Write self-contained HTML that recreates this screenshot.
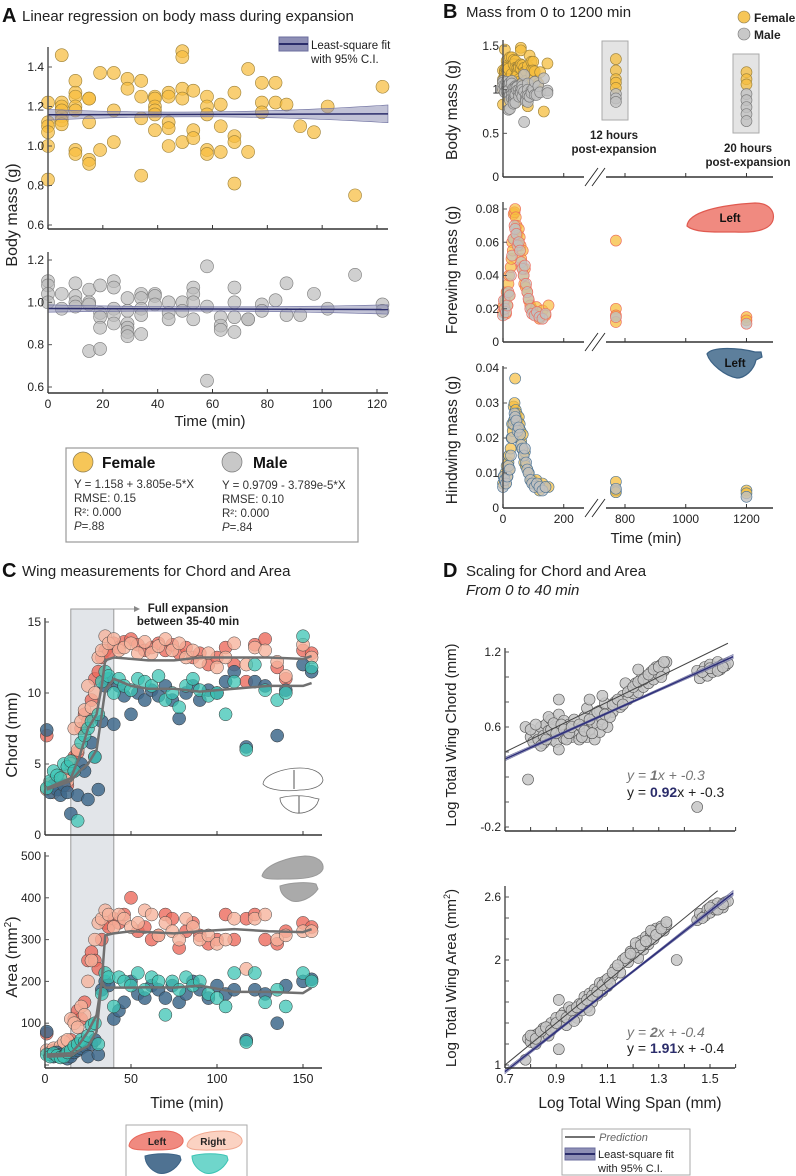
<!DOCTYPE html>
<html><head><meta charset="utf-8"><style>
html,body{margin:0;padding:0;background:#fff}
svg{display:block;font-family:"Liberation Sans",Arial,sans-serif}
</style></head><body>
<svg id="fig" width="796" height="1176" viewBox="0 0 796 1176" xmlns="http://www.w3.org/2000/svg">
<g>
<text x="2" y="22" font-size="20" font-weight="bold" fill="#111">A</text>
<text x="22" y="21" font-size="15" fill="#222">Linear regression on body mass during expansion</text></g>
<g>
<text x="443" y="18" font-size="20" font-weight="bold" fill="#111">B</text>
<text x="466" y="17" font-size="15" fill="#222">Mass from 0 to 1200 min</text></g>
<g>
<text x="2" y="577" font-size="20" font-weight="bold" fill="#111">C</text>
<text x="22" y="576" font-size="15" fill="#222">Wing measurements for Chord and Area</text></g>
<g>
<text x="443" y="577" font-size="20" font-weight="bold" fill="#111">D</text>
<text x="466" y="576" font-size="15" fill="#222">Scaling for Chord and Area</text>
<text x="466" y="595" font-size="15" font-style="italic" fill="#222">From 0 to 40 min</text></g>
</svg>
<script>
// ---------- Panel A data ----------
const femaleT=[0,0,0,0,0,0,5,5,5,5,5,5,5,10,10,10,10,10,10,10,15,15,15,15,15,19,19,24,24,24,29,29,34,34,34,34,39,39,39,39,39,39,44,44,44,44,44,49,49,49,49,49,53,53,53,58,58,58,58,58,63,63,63,68,68,68,68,73,73,78,78,78,83,83,87,92,97,102,112,122];
const femaleM=[1.22,1.12,1.10,1.07,1.0,0.83,1.46,1.22,1.20,1.18,1.15,1.13,1.11,1.33,1.27,1.25,1.2,1.18,0.98,0.96,1.24,1.24,1.12,0.93,0.91,1.37,0.98,1.37,1.18,1.02,1.34,1.29,1.33,1.25,1.14,0.85,1.25,1.24,1.2,1.18,1.16,1.08,1.27,1.25,1.12,1.09,1.0,1.48,1.45,1.29,1.24,1.02,1.28,1.08,1.04,1.25,1.2,1.16,0.98,0.96,1.21,1.1,0.97,1.27,1.05,1.02,0.81,1.39,0.97,1.32,1.22,1.17,1.32,1.22,1.21,1.1,1.07,1.2,0.75,1.3];
const maleT=[0,0,0,0,5,5,10,10,10,10,15,15,15,15,19,19,19,19,19,24,24,24,24,24,29,29,29,29,29,29,34,34,34,34,34,39,39,39,44,44,44,49,49,53,53,53,53,58,58,58,63,63,63,68,68,68,68,73,73,78,78,83,87,87,92,97,102,112,122,122];
const maleM=[1.1,1.08,1.04,1.0,1.04,0.97,1.09,1.03,1.0,0.98,1.06,1.0,0.99,0.77,1.08,0.95,0.93,0.88,0.78,1.1,1.07,0.97,0.94,0.9,1.02,0.96,0.9,0.88,0.86,0.84,1.04,1.02,0.97,0.94,0.85,1.04,1.03,0.99,1.0,0.95,0.92,1.0,0.96,1.07,1.04,1.0,0.92,1.17,0.98,0.63,0.93,0.89,0.87,1.07,1.0,0.93,0.86,0.92,0.92,0.99,0.96,1.01,1.09,0.94,0.94,1.04,0.97,1.13,0.99,0.96];
const femaleFit=[1.158,3.805e-5];
const maleFit=[0.9709,-3.789e-5];
const ticksA=[0,20,40,60,80,100,120];
const ticksA1=[0.6,0.8,1.0,1.2,1.4];
const ticksA2=[0.6,0.8,1.0,1.2];
// ---------- Panel B data ----------
const post12T=770, post20T=1200;
const body12F=[1.35,1.22,1.12,1.08,1.02], body12M=[0.95,0.9,0.86];
const body20F=[1.2,1.12,1.06], body20M=[0.95,0.88,0.8,0.72,0.64];
const foreFT=[0,2,5,8,10,12,15,18,20,22,25,28,30,32,35,36,38,40,42,45,48,50,52,55,58,60,62,65,68,70,72,75,80,85,90,95,100,110,120,130,140,150];
const foreFM=[0.018,0.022,0.02,0.025,0.017,0.03,0.022,0.035,0.04,0.028,0.045,0.05,0.06,0.055,0.077,0.062,0.078,0.08,0.075,0.07,0.065,0.06,0.068,0.063,0.058,0.05,0.045,0.055,0.04,0.035,0.044,0.033,0.03,0.025,0.022,0.02,0.018,0.021,0.014,0.019,0.016,0.022];
const foreMT=[0,3,6,10,14,18,22,26,30,34,38,40,44,48,52,56,60,64,68,72,76,80,84,90,96,104,112,120,130,140];
const foreMM=[0.016,0.025,0.02,0.018,0.022,0.03,0.028,0.04,0.052,0.062,0.07,0.068,0.065,0.058,0.06,0.055,0.048,0.044,0.04,0.046,0.035,0.03,0.026,0.02,0.017,0.016,0.018,0.015,0.014,0.017];
const hindFM=[0.007,0.009,0.008,0.01,0.007,0.012,0.009,0.013,0.015,0.011,0.017,0.02,0.024,0.022,0.029,0.025,0.03,0.037,0.028,0.027,0.025,0.023,0.026,0.024,0.022,0.019,0.017,0.021,0.015,0.013,0.016,0.012,0.011,0.01,0.008,0.008,0.007,0.008,0.005,0.007,0.006,0.006];
const hindMM=[0.006,0.009,0.008,0.007,0.009,0.012,0.011,0.015,0.02,0.024,0.027,0.026,0.025,0.022,0.023,0.021,0.018,0.017,0.015,0.017,0.013,0.011,0.01,0.008,0.007,0.006,0.007,0.006,0.005,0.006];
const fore12F=[0.061,0.02,0.016,0.012], fore12M=[0.015], fore20F=[0.015,0.013], fore20M=[0.011];
const hind12F=[0.0075,0.005,0.0045], hind12M=[0.0055], hind20F=[0.005,0.0042], hind20M=[0.0032];
const ticksBx=[0,200,800,1000,1200];
const ticksBody=[0,0.5,1,1.5], ticksFore=[0,0.02,0.04,0.06,0.08], ticksHind=[0,0.01,0.02,0.03,0.04];
// ---------- Panel C data ----------
const tC=[1,3,5,7,9,11,13,15,17,19,21,23,25,27,29,31,33,35,37,40,43,46,50,54,58,62,66,70,74,78,82,86,90,95,100,105,110,117,122,128,135,140,150,155];
const chordLF=[7.0,3.5,3.3,3.8,3.2,4.0,3.5,4.5,5.5,5.8,7.5,8.5,8.0,9.5,11.0,11.5,12.5,13.0,12.8,13.5,13.2,13.6,13.8,13.4,13.0,13.2,13.5,13.0,13.4,12.8,13.2,12.5,12.8,12.0,12.5,13.2,12.0,10.8,13.4,13.8,11.8,11.0,13.0,12.8];
const chordRF=[3.2,3.6,3.0,3.4,3.9,4.2,3.8,5.0,7.5,6.0,8.0,8.8,10.5,9.0,10.0,12.5,13.0,14.0,13.5,13.8,13.0,13.2,13.5,12.8,13.6,12.8,13.3,13.8,13.0,13.5,12.5,13.0,12.2,12.8,11.8,12.5,13.5,12.0,13.2,13.0,12.2,11.2,13.4,12.5];
const chordLH=[7.4,3.0,3.5,3.2,2.8,3.5,3.0,1.5,4.5,2.8,5.0,4.5,2.5,6.5,5.5,3.2,8.0,10.5,11.0,7.8,10.5,9.8,8.5,10.0,9.5,10.2,9.8,10.5,9.5,8.2,10.0,10.5,9.5,10.2,10.0,10.8,11.5,6.2,10.8,10.5,7.0,10.2,12.0,11.5];
const chordRH=[3.3,3.8,4.5,4.2,4.0,5.0,4.8,5.2,4.5,1.0,6.5,7.0,7.5,8.0,5.5,8.5,10.8,11.5,11.2,10.0,11.0,10.5,10.2,11.0,10.8,10.5,11.2,9.5,10.0,9.0,10.5,11.0,10.2,9.8,10.0,8.5,10.8,6.0,12.0,10.2,9.5,10.0,14.0,11.8];
const areaLF=[75,30,35,28,32,40,45,60,110,130,110,150,250,270,250,230,300,340,330,350,340,360,400,320,330,300,310,360,350,280,320,340,310,290,300,360,300,350,360,300,290,320,340,330];
const areaRF=[35,30,40,32,45,55,60,110,100,90,140,120,200,250,300,340,350,370,360,330,360,350,330,340,370,360,310,340,320,300,350,330,300,310,290,300,350,230,350,360,300,310,320,320];
const areaLH=[80,25,20,30,25,22,15,20,30,35,40,45,20,50,60,25,180,200,190,110,130,150,200,170,160,190,180,160,190,150,170,200,180,160,190,170,180,60,180,170,100,190,200,205];
const areaRH=[25,20,28,22,18,20,30,35,45,50,60,55,70,95,100,50,170,220,210,140,210,200,190,220,180,210,200,120,200,180,210,190,200,170,160,140,220,55,220,150,180,140,220,200];
const trendT=[1,15,20,25,30,33,35,40,50,60,75,90,110,130,150,155];
const trendChordFore=[3.3,4.0,5.5,7.5,8.5,10.5,12.3,12.5,12.4,12.3,12.3,12.5,12.5,12.5,12.4,12.6];
const trendChordHind=[3.2,3.8,4.5,5.0,6.0,8.5,10.2,11.0,10.5,10.3,10.3,10.1,10.3,10.5,10.5,10.7];
const trendAreaFore=[25,28,50,80,120,200,310,315,320,318,315,320,325,320,318,325];
const trendAreaHind=[20,22,35,45,80,200,185,185,185,186,185,190,175,175,172,185];
const ticksCx=[0,50,100,150], ticksChord=[0,5,10,15], ticksArea=[0,100,200,300,400,500];
// ---------- Panel D data ----------
const spanChordX=[0.78,0.80,0.81,0.82,0.83,0.84,0.85,0.85,0.86,0.87,0.88,0.88,0.89,0.90,0.90,0.91,0.91,0.92,0.93,0.93,0.94,0.95,0.96,0.97,0.91,0.79,0.98,0.99,1.00,1.01,1.02,1.02,1.03,1.04,1.05,1.05,1.06,1.07,1.07,1.08,1.09,1.10,1.03,1.08,1.12,1.13,1.15,1.16,1.18,1.19,1.20,1.21,1.22,1.23,1.24,1.25,1.26,1.27,1.28,1.29,1.30,1.31,1.32,1.33,1.22,1.17,1.45,1.46,1.48,1.49,1.50,1.51,1.52,1.53,1.54,1.55,1.56,1.57,1.45,
0.80,0.82,0.84,0.86,0.87,0.88,0.89,0.90,0.92,0.93,0.94,0.95,0.96,0.99,1.00,1.01,1.03,1.04,1.06,1.08,1.09,1.11,1.12,1.14,1.16,1.18,1.20,1.22,1.24,1.26,1.28,1.30,1.31,1.32,1.47,1.50,1.53,1.55];
const chordY=[0.60,0.52,0.48,0.55,0.50,0.60,0.53,0.47,0.62,0.57,0.50,0.66,0.54,0.60,0.48,0.70,0.42,0.55,0.65,0.51,0.58,0.62,0.52,0.66,0.82,0.18,0.55,0.50,0.60,0.68,0.52,0.75,0.58,0.64,0.50,0.70,0.62,0.56,0.73,0.66,0.79,0.60,0.82,0.85,0.72,0.80,0.76,0.85,0.82,0.90,0.87,0.95,0.88,0.98,0.92,1.00,0.95,1.04,0.98,1.08,1.02,1.10,1.05,1.12,1.06,0.95,1.05,0.99,1.08,1.01,1.10,1.04,1.08,1.12,1.06,1.10,1.09,1.11,-0.04,
0.58,0.62,0.45,0.50,0.68,0.58,0.63,0.55,0.62,0.58,0.50,0.55,0.60,0.62,0.52,0.57,0.66,0.55,0.72,0.62,0.70,0.68,0.78,0.82,0.78,0.88,0.92,0.96,0.98,1.02,1.06,1.08,1.00,1.12,1.04,1.07,1.05,1.08];
const spanAreaX=[0.78,0.79,0.80,0.81,0.82,0.83,0.84,0.85,0.86,0.87,0.88,0.89,0.90,0.91,0.91,0.92,0.93,0.94,0.95,0.96,0.97,0.98,0.99,1.00,1.01,1.02,1.03,1.04,1.05,1.06,1.07,1.08,1.09,1.10,1.12,1.13,1.15,1.16,1.18,1.19,1.20,1.21,1.22,1.23,1.24,1.25,1.26,1.27,1.28,1.29,1.30,1.31,1.32,1.33,1.37,1.45,1.46,1.48,1.49,1.50,1.51,1.52,1.53,1.55,1.56,1.57,
0.80,0.82,0.84,0.86,0.88,0.90,0.92,0.94,0.96,0.98,1.00,1.02,1.04,1.06,1.08,1.10,1.12,1.14,1.17,1.19,1.21,1.23,1.25,1.27,1.29,1.31,1.33,1.47,1.50,1.53,1.55,0.97,1.03,1.11];
const areaY=[1.05,1.25,1.22,1.28,1.20,1.30,1.26,1.35,1.32,1.28,1.40,1.36,1.45,1.15,1.62,1.42,1.50,1.38,1.55,1.47,1.52,1.45,1.58,1.52,1.65,1.55,1.68,1.60,1.72,1.66,1.78,1.70,1.80,1.75,1.85,1.92,1.88,2.00,1.98,2.08,2.05,2.12,2.02,2.18,2.10,2.22,2.15,2.25,2.20,2.30,2.26,2.32,2.28,2.34,2.00,2.38,2.44,2.42,2.48,2.45,2.52,2.48,2.54,2.50,2.55,2.56,
1.28,1.25,1.32,1.36,1.33,1.40,1.47,1.45,1.52,1.55,1.58,1.62,1.66,1.70,1.76,1.82,1.88,1.95,2.02,2.06,2.16,2.14,2.18,2.28,2.24,2.30,2.36,2.40,2.50,2.48,2.53,1.42,1.52,1.78];
const predChord=[1,-0.3], fitChord=[0.92,-0.3], predArea=[2,-0.4], fitArea=[1.91,-0.4];
const ticksDx=[0.7,0.8,0.9,1.0,1.1,1.2,1.3,1.4,1.5,1.6], labelsDx=["0.7","","0.9","","1.1","","1.3","","1.5",""];
const ticksDc=[-0.2,0,0.2,0.4,0.6,0.8,1.0,1.2], labelsDc=["-0.2","","","","0.6","","","1.2"];
const ticksDa=[1,1.2,1.4,1.6,1.8,2,2.2,2.4,2.6], labelsDa=["1","","","","","2","","","2.6"];

// ---------- helpers ----------
const svg=document.getElementById('fig');
const NS='http://www.w3.org/2000/svg';
function mk(tag,a,parent){const e=document.createElementNS(NS,tag);for(const k in a)e.setAttribute(k,a[k]);(parent||svg).appendChild(e);return e;}
function txt(x,y,s,a,parent){const e=mk('text',Object.assign({x:x,y:y,'font-size':12,fill:'#222'},a||{}),parent);e.textContent=s;return e;}
function sc(d0,d1,r0,r1){return v=>r0+(v-d0)*(r1-r0)/(d1-d0);}
function grp(name){const g=mk('g',{});


return g;}
function dots(xs,ys,fx,fy,r,fill,stroke,op,name,sw){const g=grp(name);
for(let i=0;i<xs.length;i++){const c=mk('circle',{cx:fx(xs[i]),cy:fy(ys[i]),r:r,fill:fill,'fill-opacity':op,stroke:stroke,'stroke-width':sw||0.6},g);

}
return g;}
function yAxis(x,top,bottom,vals,labels,fy,name,len,fs){const g=grp(name);
mk('line',{x1:x,y1:top,x2:x,y2:bottom,stroke:'#555','stroke-width':1.5},g);
vals.forEach((v,i)=>{const y=fy(v);mk('line',{x1:x,y1:y,x2:x+(len||4),y2:y,stroke:'#555','stroke-width':1},g);
if(labels[i]!=='')txt(x-4,y+4,labels[i],{'text-anchor':'end','font-size':fs||12},g);});return g;}
function xAxis(y,left,right,vals,labels,fx,name,fs){const g=grp(name);
mk('line',{x1:left,y1:y,x2:right,y2:y,stroke:'#333','stroke-width':1.5},g);
vals.forEach((v,i)=>{const x=fx(v);mk('line',{x1:x,y1:y,x2:x,y2:y-4,stroke:'#333','stroke-width':1},g);
if(labels&&labels[i]!=='')txt(x,y+15,labels[i],{'text-anchor':'middle','font-size':fs||12},g);});return g;}
function ylabel(x,y,s,name,fs){const t=txt(x,y,s,{'text-anchor':'middle','font-size':fs||15,transform:'rotate(-90 '+x+' '+y+')'});


return t;}
function band(fx,fy,x0,x1,fit,hw,name,stroke){const g=grp(name);let up=[],dn=[];
for(let i=0;i<=20;i++){const x=x0+(x1-x0)*i/20;const c=fit[0]+fit[1]*x;const h=hw(x);up.push(fx(x)+','+fy(c+h));dn.unshift(fx(x)+','+fy(c-h));}
mk('polygon',{points:up.concat(dn).join(' '),fill:'#8e8fb5','fill-opacity':0.55,stroke:'#6b6d9e','stroke-width':0.6},g);
mk('line',{x1:fx(x0),y1:fy(fit[0]+fit[1]*x0),x2:fx(x1),y2:fy(fit[0]+fit[1]*x1),stroke:stroke||'#2b2d6b','stroke-width':1.5},g);return g;}

// ---------- Panel A ----------
const xA=sc(0,120,48,377), yA1=sc(0.6,1.4,225,67), yA2=sc(0.6,1.2,387,260);
dots(femaleT,femaleM,xA,yA1,6.5,'#f6bd3e','#9c8038',0.72,'female-mass-dots');
band(xA,yA1,0,124,[femaleFit[0],femaleFit[1]],t=>0.012+0.000006*(t-50)*(t-50),'female-fit-band');
yAxis(48,47,229,ticksA1,ticksA1.map(v=>v.toFixed(1)),yA1,'a-top-y-axis');
xAxis(229,48,388,ticksA,null,xA,'a-top-x-axis');
dots(maleT,maleM,xA,yA2,6.5,'#bcbcbc','#7a7a7a',0.7,'male-mass-dots');
band(xA,yA2,0,124,[maleFit[0],maleFit[1]],t=>0.01+0.0000025*(t-55)*(t-55),'male-fit-band');
yAxis(48,252,393,ticksA2,ticksA2.map(v=>v.toFixed(1)),yA2,'a-bottom-y-axis');
xAxis(393,48,388,ticksA,ticksA.map(String),xA,'a-bottom-x-axis',12);
ylabel(17,215,'Body mass (g)','a-y-axis-title',16);
txt(210,426,'Time (min)',{'text-anchor':'middle','font-size':15});
{const g=grp('a-fit-legend');
mk('rect',{x:279,y:37,width:29,height:14,fill:'#8e8fb5',stroke:'#6b6d9e'},g);
mk('line',{x1:279,y1:44,x2:308,y2:44,stroke:'#2b2d6b','stroke-width':2},g);
txt(311,49,'Least-square fit',{'font-size':11.5},g);txt(311,63,'with 95% C.I.',{'font-size':11.5},g);}
{const g=grp('a-sex-legend');
mk('rect',{x:66,y:448,width:292,height:94,fill:'#fff',stroke:'#999','stroke-width':1.2},g);
mk('circle',{cx:83,cy:462,r:10,fill:'#f6c658',stroke:'#8a7a50','stroke-width':0.7},g);
txt(102,468,'Female',{'font-size':15.5,'font-weight':'bold','fill':'#111'},g);
mk('circle',{cx:232,cy:462,r:10,fill:'#c8c8c8',stroke:'#777','stroke-width':0.7},g);
txt(253,468,'Male',{'font-size':15.5,'font-weight':'bold','fill':'#111'},g);
const L1=['Y = 1.158 + 3.805e-5*X','RMSE: 0.15','R²: 0.000'],L2=['Y = 0.9709 - 3.789e-5*X','RMSE: 0.10','R²: 0.000'];
L1.forEach((s,i)=>txt(74,488+i*14,s,{'font-size':11.5,fill:'#333'},g));
L2.forEach((s,i)=>txt(222,489+i*14,s,{'font-size':11.5,fill:'#333'},g));
const p1=txt(74,530,'',{'font-size':11.5,fill:'#333'},g);p1.innerHTML='<tspan font-style="italic">P</tspan>=.88';
const p2=txt(222,531,'',{'font-size':11.5,fill:'#333'},g);p2.innerHTML='<tspan font-style="italic">P</tspan>=.84';}

// ---------- Panel B ----------
const xB=t=>t<=200?503+0.3037*t:625+(t-800)*0.3037;
const yBb=sc(0,1.5,177,46), yBf=sc(0,0.08,342,209), yBh=sc(0,0.04,508,368);
{const g=grp('post-expansion-boxes');
mk('rect',{x:602,y:41,width:26,height:79,fill:'#e4e4e4',stroke:'#aaa'},g);
mk('rect',{x:733,y:54,width:26,height:79,fill:'#e4e4e4',stroke:'#aaa'},g);}
const fC='#f6bd3e', mC='#c0c0c0';
dots(femaleT.map(t=>t*1.2),femaleM,xB,yBb,5.5,fC,'#9c8038',0.75,'b-female-body-dots');
dots(maleT.map(t=>t*1.2),maleM,xB,yBb,5.5,mC,'#777',0.8,'b-male-body-dots');
dots(body12F.map(()=>post12T),body12F,xB,yBb,5.5,fC,'#9c8038',0.75,'b-female-body-12h');
dots(body12M.map(()=>post12T),body12M,xB,yBb,5.5,mC,'#777',0.8,'b-male-body-12h');
dots(body20F.map(()=>post20T),body20F,xB,yBb,5.5,fC,'#9c8038',0.75,'b-female-body-20h');
dots(body20M.map(()=>post20T),body20M,xB,yBb,5.5,mC,'#777',0.8,'b-male-body-20h');
dots(foreFT,foreFM,xB,yBf,5.5,fC,'#ec6a5c',0.7,'b-female-forewing-dots');
dots(foreMT,foreMM,xB,yBf,5.5,mC,'#ec6a5c',0.7,'b-male-forewing-dots');
dots(fore12F.map(()=>post12T),fore12F,xB,yBf,5.5,fC,'#ec6a5c',0.75,'b-female-forewing-12h');
dots(fore12M.map(()=>post12T),fore12M,xB,yBf,5.5,mC,'#ec6a5c',0.8,'b-male-forewing-12h');
dots(fore20F.map(()=>post20T),fore20F,xB,yBf,5.5,fC,'#ec6a5c',0.75,'b-female-forewing-20h');
dots(fore20M.map(()=>post20T),fore20M,xB,yBf,5.5,mC,'#ec6a5c',0.8,'b-male-forewing-20h');
dots(foreFT,hindFM,xB,yBh,5.5,fC,'#4d7394',0.7,'b-female-hindwing-dots');
dots(foreMT,hindMM,xB,yBh,5.5,mC,'#4d7394',0.75,'b-male-hindwing-dots');
dots(hind12F.map(()=>post12T),hind12F,xB,yBh,5.5,fC,'#4d7394',0.75,'b-female-hindwing-12h');
dots(hind12M.map(()=>post12T),hind12M,xB,yBh,5.5,mC,'#4d7394',0.8,'b-male-hindwing-12h');
dots(hind20F.map(()=>post20T),hind20F,xB,yBh,5.5,fC,'#4d7394',0.75,'b-female-hindwing-20h');
dots(hind20M.map(()=>post20T),hind20M,xB,yBh,5.5,mC,'#4d7394',0.8,'b-male-hindwing-20h');
yAxis(503,40,177,ticksBody,['0','0.5','1','1.5'],yBb,'b-body-y-axis');
xAxis(177,503,773,ticksBx,null,xB,'b-body-x-axis');
yAxis(503,202,342,ticksFore,['0','0.02','0.04','0.06','0.08'],yBf,'b-forewing-y-axis');
xAxis(342,503,773,ticksBx,null,xB,'b-forewing-x-axis');
yAxis(503,366,508,ticksHind,['0','0.01','0.02','0.03','0.04'],yBh,'b-hindwing-y-axis');
xAxis(508,503,773,ticksBx,['0','200','800','1000','1200'],xB,'b-hindwing-x-axis');
[177,342,508].forEach(y=>{const g=grp('axis-break');
mk('rect',{x:584,y:y-1,width:22,height:3,fill:'#fff'},g);
mk('line',{x1:585,y1:y+9,x2:598,y2:y-9,stroke:'#222','stroke-width':0.9},g);
mk('line',{x1:592,y1:y+9,x2:605,y2:y-9,stroke:'#222','stroke-width':0.9},g);});
ylabel(457,110,'Body mass (g)','b-body-y-title',15.5);
ylabel(457,270,'Forewing mass (g)','b-forewing-y-title',15.5);
ylabel(457,440,'Hindwing mass (g)','b-hindwing-y-title',15.5);
txt(646,543,'Time (min)',{'text-anchor':'middle','font-size':15});
{const g=grp('post-expansion-labels');
txt(614,139,'12 hours',{'text-anchor':'middle','font-size':11.5,'font-weight':'bold'},g);
txt(614,153,'post-expansion',{'text-anchor':'middle','font-size':11.5,'font-weight':'bold'},g);
txt(748,152,'20 hours',{'text-anchor':'middle','font-size':11.5,'font-weight':'bold'},g);
txt(748,166,'post-expansion',{'text-anchor':'middle','font-size':11.5,'font-weight':'bold'},g);}
{const g=grp('b-sex-legend');
mk('circle',{cx:744,cy:17,r:6,fill:'#f6c658',stroke:'#8a7a50','stroke-width':0.6},g);
txt(754,22,'Female',{'font-size':12,'font-weight':'bold'},g);
mk('circle',{cx:744,cy:34,r:6,fill:'#c8c8c8',stroke:'#777','stroke-width':0.6},g);
txt(754,39,'Male',{'font-size':12,'font-weight':'bold'},g);}
{const g=grp('forewing-icon');
mk('path',{d:'M687,226 C688,212 720,205 755,203 C770,203 775,212 773,220 C770,230 755,233 735,232 C715,232 695,233 687,226Z',fill:'#f08a80',stroke:'#e05a50','stroke-width':1.2},g);
txt(730,222,'Left',{'text-anchor':'middle','font-size':11.5,'font-weight':'bold','fill':'#111'},g);}
{const g=grp('hindwing-icon');
mk('path',{d:'M707,354 C712,346 740,348 755,352 L761,352 L762,357 L756,360 C754,370 745,378 737,378 C725,376 710,364 707,354Z',fill:'#5d7f9c',stroke:'#3c6285','stroke-width':1.2},g);
txt(735,367,'Left',{'text-anchor':'middle','font-size':11.5,'font-weight':'bold','fill':'#111'},g);}

// ---------- Panel C ----------
const xC=sc(0,150,45,303), yCc=sc(0,15,835,622), yCa=sc(0,500,1065,856);
{const g=grp('full-expansion-window');
mk('rect',{x:xC(15),y:609,width:xC(40)-xC(15),height:459,fill:'#dde0e5','fill-opacity':0.85,stroke:'#999','stroke-width':1},g);
mk('line',{x1:xC(40),y1:609,x2:134,y2:609,stroke:'#999','stroke-width':1},g);
mk('polygon',{points:'134,606 140,609 134,612',fill:'#888'},g);
txt(188,612,'Full expansion',{'text-anchor':'middle','font-size':11.5,'font-weight':'bold'},g);
txt(188,625,'between 35-40 min',{'text-anchor':'middle','font-size':11.5,'font-weight':'bold'},g);}
const cLF='#ec6a5c', cRF='#f6b49e', cLH='#3f6a8c', cRH='#3cc4b4';
dots(tC,chordLF,xC,yCc,6.5,cLF,'#444',0.8,'chord-left-forewing',0.5);
dots(tC,chordRF,xC,yCc,6.5,cRF,'#444',0.8,'chord-right-forewing',0.5);
dots(tC,chordLH,xC,yCc,6.5,cLH,'#333',0.85,'chord-left-hindwing',0.5);
dots(tC,chordRH,xC,yCc,6.5,cRH,'#333',0.75,'chord-right-hindwing',0.5);
dots(tC,areaLF,xC,yCa,6.5,cLF,'#444',0.8,'area-left-forewing',0.5);
dots(tC,areaRF,xC,yCa,6.5,cRF,'#444',0.8,'area-right-forewing',0.5);
dots(tC,areaLH,xC,yCa,6.5,cLH,'#333',0.85,'area-left-hindwing',0.5);
dots(tC,areaRH,xC,yCa,6.5,cRH,'#333',0.75,'area-right-hindwing',0.5);
function trend(ys,fy,name){const g=grp(name);
mk('polyline',{points:trendT.map((t,i)=>xC(t)+','+fy(ys[i])).join(' '),fill:'none',stroke:'#707070','stroke-width':2.5,'stroke-linejoin':'round'},g);}
trend(trendChordFore,yCc,'chord-forewing-trend');trend(trendChordHind,yCc,'chord-hindwing-trend');
trend(trendAreaFore,yCa,'area-forewing-trend');trend(trendAreaHind,yCa,'area-hindwing-trend');
yAxis(45,618,835,ticksChord,ticksChord.map(String),yCc,'chord-y-axis');
xAxis(835,45,322,ticksCx,null,xC,'chord-x-axis');
yAxis(45,852,1068,ticksArea,['','100','200','300','400','500'],yCa,'area-y-axis');
xAxis(1068,45,322,ticksCx,ticksCx.map(String),xC,'area-x-axis',12.5);
ylabel(17,735,'Chord (mm)','chord-y-title',16);
{const t=ylabel(17,957,'','area-y-title',16);t.innerHTML='Area (mm<tspan font-size="10" dy="-6">2</tspan><tspan dy="6">)</tspan>';}
txt(187,1108,'Time (min)',{'text-anchor':'middle','font-size':15.5});
{const g=grp('chord-wing-icon');
mk('path',{d:'M263,784 C264,774 285,768 300,768 C312,768 322,772 323,780 C322,787 310,790 300,790 C285,792 268,790 263,784Z',fill:'none',stroke:'#666','stroke-width':0.8},g);
mk('path',{d:'M280,798 C290,795 305,795 314,798 L319,799 L317,804 C312,812 300,815 292,812 C285,809 280,804 280,798Z',fill:'none',stroke:'#666','stroke-width':0.8},g);
mk('line',{x1:294,y1:770,x2:294,y2:789,stroke:'#555','stroke-width':1},g);
mk('line',{x1:299,y1:796,x2:299,y2:813,stroke:'#555','stroke-width':1},g);}
{const g=grp('area-wing-icon');
mk('path',{d:'M262,876 C265,864 290,857 305,856 C318,856 324,862 323,869 C320,877 305,879 290,879 C275,879 265,880 262,876Z',fill:'#aaa',stroke:'#999'},g);
mk('path',{d:'M280,886 C292,882 308,882 316,884 L318,889 C312,898 300,903 292,901 C285,898 280,893 280,886Z',fill:'#aaa',stroke:'#999'},g);}
{const g=grp('c-wing-legend');
mk('rect',{x:126,y:1125,width:121,height:52,fill:'#fff',stroke:'#aaa'},g);
mk('path',{d:'M129,1146 C130,1135 150,1131 165,1131 C178,1131 184,1137 183,1142 C181,1149 170,1150 158,1150 C145,1150 132,1151 129,1146Z',fill:'#f08a80',stroke:'#e8675a'},g);
txt(157,1145,'Left',{'text-anchor':'middle','font-size':10,'font-weight':'bold'},g);
mk('path',{d:'M187,1146 C188,1135 208,1131 223,1131 C236,1131 243,1137 242,1142 C240,1149 228,1150 216,1150 C203,1150 190,1151 187,1146Z',fill:'#fbd2c2',stroke:'#f0a890'},g);
txt(213,1145,'Right',{'text-anchor':'middle','font-size':10,'font-weight':'bold'},g);
mk('path',{d:'M145,1156 C155,1153 172,1153 180,1156 L181,1160 C176,1170 166,1175 158,1173 C150,1170 145,1163 145,1156Z',fill:'#4f7292',stroke:'#3c6285'},g);
mk('path',{d:'M192,1156 C202,1153 219,1153 227,1156 L228,1160 C223,1170 213,1175 205,1173 C197,1170 192,1163 192,1156Z',fill:'#6fd6cb',stroke:'#3cc4b4'},g);}

// ---------- Panel D ----------
const xD=sc(0.7,1.5,505,710), yDc=sc(-0.2,1.2,827,652), yDa=sc(1,2.6,1065,897);
dots(spanChordX,chordY,xD,yDc,5.5,'#c6c6c6','#555',0.85,'chord-scaling-dots');
function predLine(fit,fy,x0,x1,name){const l=mk('line',{x1:xD(x0),y1:fy(fit[0]*x0+fit[1]),x2:xD(x1),y2:fy(fit[0]*x1+fit[1]),stroke:'#444','stroke-width':1});

}
predLine(predChord,yDc,0.7,1.57,'chord-prediction-line');
band(xD,yDc,0.7,1.59,[fitChord[1],fitChord[0]],x=>0.008+0.04*(x-1.1)*(x-1.1),'chord-fit-band','#2e2f7a');
yAxis(505,648,831,ticksDc,labelsDc,yDc,'chord-scaling-y-axis');
xAxis(831,505,735,ticksDx,null,xD,'chord-scaling-x-axis');
dots(spanAreaX,areaY,xD,yDa,5.5,'#c6c6c6','#555',0.85,'area-scaling-dots');
predLine(predArea,yDa,0.7,1.53,'area-prediction-line');
band(xD,yDa,0.7,1.59,[fitArea[1],fitArea[0]],x=>0.01+0.06*(x-1.1)*(x-1.1),'area-fit-band','#2e2f7a');
yAxis(505,886,1068,ticksDa,labelsDa,yDa,'area-scaling-y-axis');
xAxis(1068,505,735,ticksDx,labelsDx,xD,'area-scaling-x-axis',12.5);
ylabel(456,735,'Log Total Wing Chord (mm)','chord-scaling-y-title',15);
{const t=ylabel(456,978,'','area-scaling-y-title',15);t.innerHTML='Log Total Wing Area (mm<tspan font-size="9" dy="-6">2</tspan><tspan dy="6">)</tspan>';}
txt(630,1108,'Log Total Wing Span (mm)',{'text-anchor':'middle','font-size':15.5});
{const g=grp('chord-equations');
const a=txt(627,780,'',{'font-size':14,fill:'#777','font-style':'italic'},g);a.innerHTML='y = <tspan font-weight="bold">1</tspan>x + -0.3';
const b=txt(627,797,'',{'font-size':14,fill:'#222'},g);b.innerHTML='y = <tspan font-weight="bold" fill="#2b2d6b">0.92</tspan>x + -0.3';}
{const g=grp('area-equations');
const a=txt(627,1037,'',{'font-size':14,fill:'#777','font-style':'italic'},g);a.innerHTML='y = <tspan font-weight="bold">2</tspan>x + -0.4';
const b=txt(627,1053,'',{'font-size':14,fill:'#222'},g);b.innerHTML='y = <tspan font-weight="bold" fill="#2b2d6b">1.91</tspan>x + -0.4';}
{const g=grp('d-legend');
mk('rect',{x:562,y:1129,width:128,height:46,fill:'#fff',stroke:'#aaa'},g);
mk('line',{x1:565,y1:1137,x2:595,y2:1137,stroke:'#444','stroke-width':1.5},g);
txt(599,1141,'Prediction',{'font-size':11,'font-style':'italic',fill:'#666'},g);
mk('rect',{x:565,y:1148,width:30,height:12,fill:'#8e8fb5',stroke:'#6b6d9e'},g);
mk('line',{x1:565,y1:1154,x2:595,y2:1154,stroke:'#2b2d6b','stroke-width':2},g);
txt(598,1158,'Least-square fit',{'font-size':11},g);
txt(598,1172,'with 95% C.I.',{'font-size':11},g);}
</script>
</body></html>
